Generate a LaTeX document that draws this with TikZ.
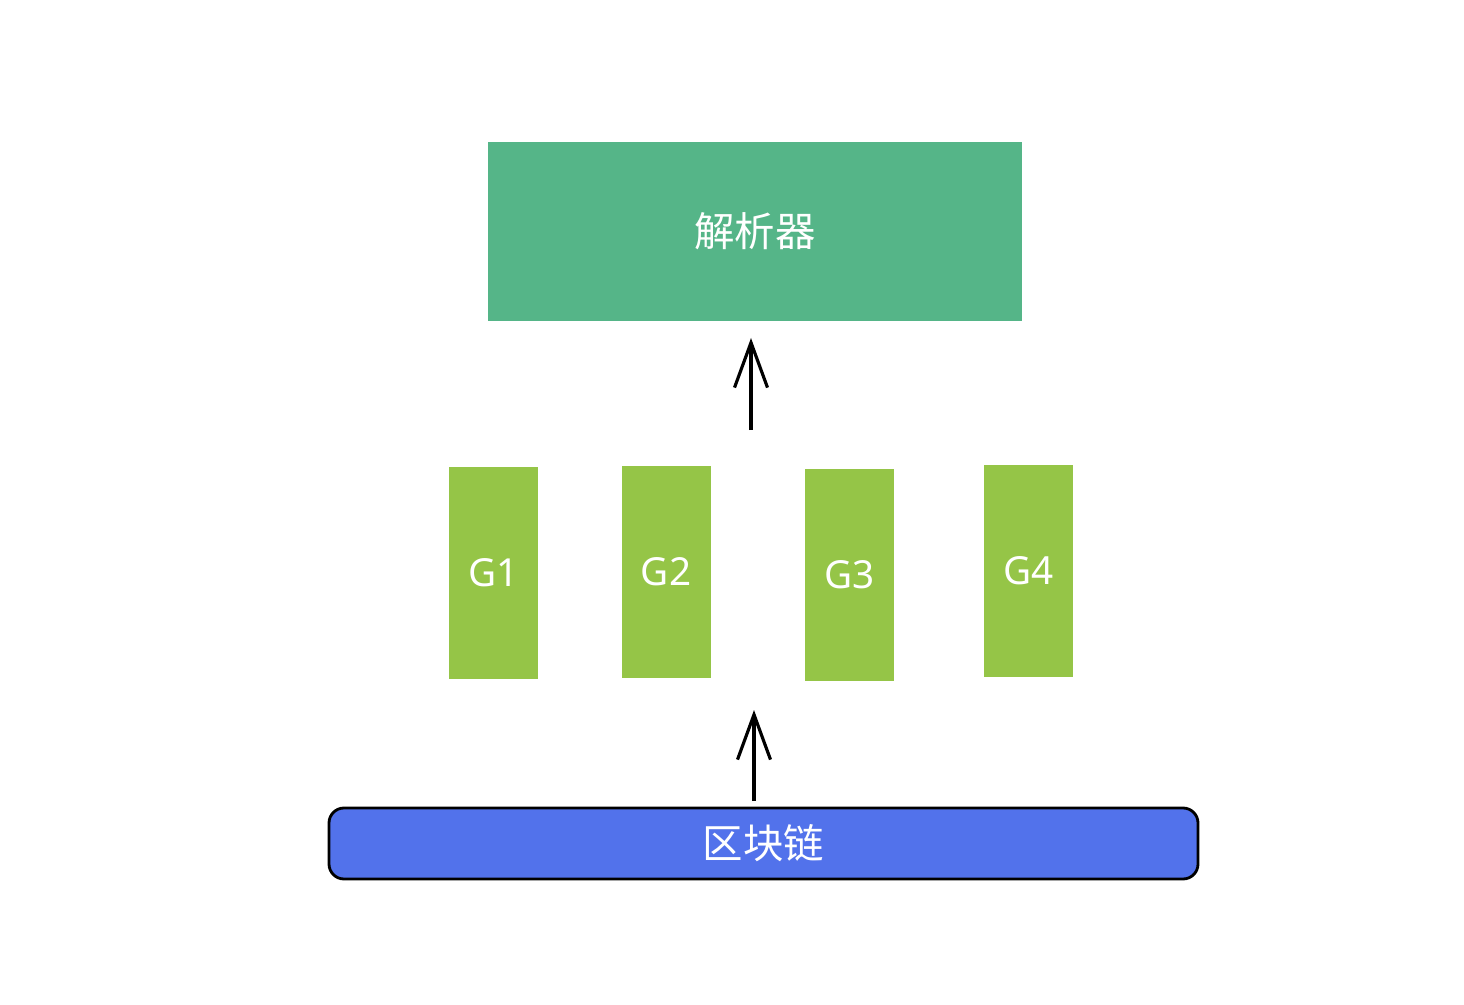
\documentclass[tikz,border=0pt]{standalone}
\usepackage{fontspec}
\newfontfamily\cjk{Noto Sans CJK SC}
\newfontfamily\hand{Noto Sans}
\usetikzlibrary{arrows.meta}
\definecolor{parsegreen}{HTML}{55B588}
\definecolor{groupgreen}{HTML}{95C547}
\definecolor{chainblue}{HTML}{5272EB}
\tikzset{
  gbox/.style={fill=groupgreen,minimum width=0.89cm,minimum height=2.12cm,text=white,font=\hand\bfseries\fontsize{11}{13}\selectfont},
  uparrow/.style={line width=0.9pt,-{Straight Barb[length=4.5mm,width=3.3mm,line width=0.9pt]}}
}
\begin{document}
\begin{tikzpicture}
\useasboundingbox (0,0) rectangle (14.64,10.04);
\node[fill=parsegreen,minimum width=5.34cm,minimum height=1.79cm,text=white,font=\cjk\fontsize{11.5}{13}\selectfont] (parser) at (7.55,7.725) {解析器};
\node[gbox] (g1) at (4.935,4.31) {G1};
\node[gbox] (g2) at (6.66,4.32) {G2};
\node[gbox] (g3) at (8.495,4.29) {G3};
\node[gbox] (g4) at (10.285,4.33) {G4};
\node[draw=black,line width=0.8pt,fill=chainblue,rounded corners=0.15cm,minimum width=8.69cm,minimum height=0.71cm,text=white,font=\cjk\fontsize{11.5}{13}\selectfont] (chain) at (7.635,1.605) {区块链};
\coordinate (a1) at (7.51,5.74);
\coordinate (b1) at (7.51,6.66);
\coordinate (a2) at (7.54,2.03);
\coordinate (b2) at (7.54,2.94);
\draw[uparrow] (a1) -- (b1);
\draw[uparrow] (a2) -- (b2);
\end{tikzpicture}
\end{document}
